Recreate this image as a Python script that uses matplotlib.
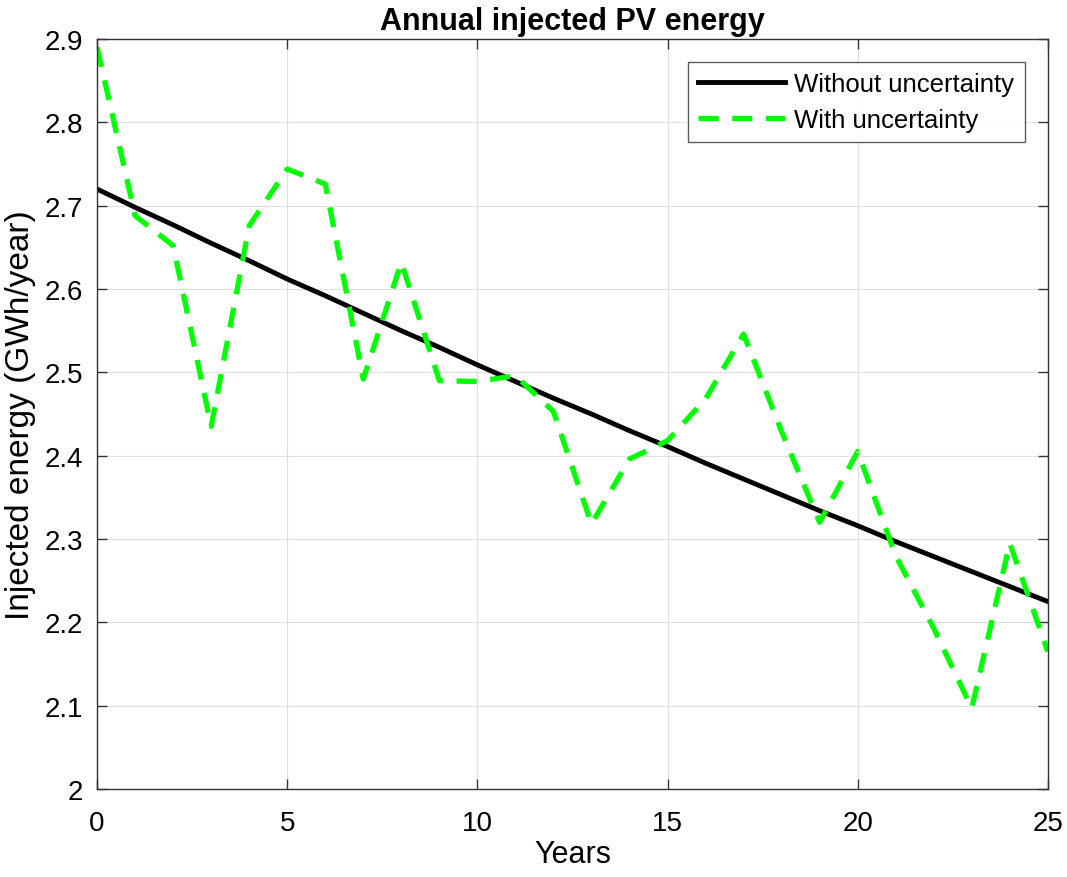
import matplotlib.pyplot as plt
import numpy as np

plt.rcParams['font.family'] = ['Liberation Sans', 'DejaVu Sans']

years = np.arange(0, 26)
without_unc = [2.720, 2.698, 2.677, 2.655, 2.634, 2.612, 2.592, 2.571, 2.550,
               2.530, 2.509, 2.489, 2.469, 2.450, 2.430, 2.411, 2.391, 2.372,
               2.353, 2.334, 2.316, 2.297, 2.279, 2.261, 2.243, 2.225]
with_unc = [2.890, 2.688, 2.652, 2.435, 2.676, 2.744, 2.726, 2.492, 2.632,
            2.490, 2.489, 2.496, 2.453, 2.318, 2.396, 2.418, 2.468, 2.546,
            2.429, 2.320, 2.405, 2.280, 2.193, 2.097, 2.295, 2.165]

fig = plt.figure(figsize=(10.67, 8.78), dpi=100)
ax = fig.add_axes([0.091, 0.1002, 0.891, 0.8542])

ax.plot(years, without_unc, color='black', linewidth=3.5, label='Without uncertainty')
ax.plot(years, with_unc, color='#00FF00', linewidth=3.8, dashes=(3.8, 2.6),
        label='With uncertainty')

ax.set_xlim(0, 25)
ax.set_ylim(2.0, 2.9)
ax.set_xticks(np.arange(0, 26, 5))
ax.set_yticks(np.arange(2.0, 2.95, 0.1))
ax.set_yticklabels(['2', '2.1', '2.2', '2.3', '2.4', '2.5', '2.6', '2.7', '2.8', '2.9'])
ax.grid(True, color='#dedede', linewidth=0.8)
ax.tick_params(direction='in', top=True, right=True, length=7, width=1,
               labelsize=20, color='#333333')
ax.tick_params(axis='x', pad=15)
ax.tick_params(axis='y', pad=10)
for s in ax.spines.values():
    s.set_color('#333333')
    s.set_linewidth(1)

ax.set_xlabel('Years', fontsize=22, labelpad=2)
ax.set_ylabel('Injected energy (GWh/year)', fontsize=24, labelpad=6)
ax.set_title('Annual injected PV energy', fontsize=22, fontweight='bold', pad=7)

leg = ax.legend(loc='upper right', fontsize=18.5, frameon=True, fancybox=False,
                edgecolor='#333333', handlelength=3.4, borderpad=0.4,
                labelspacing=0.45, handletextpad=0.35, borderaxespad=0.9)
leg.get_frame().set_linewidth(1)

fig.savefig('out.png', dpi=100)
